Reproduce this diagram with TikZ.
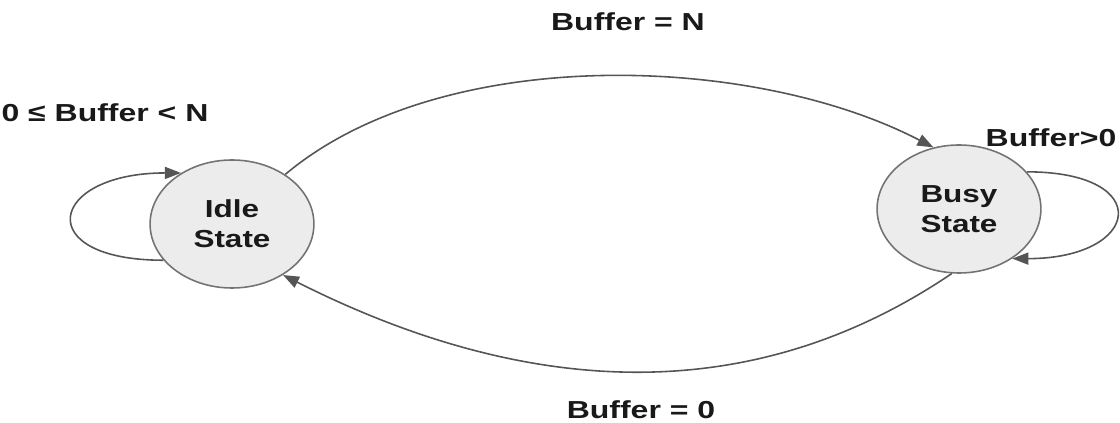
\documentclass[tikz,border=0pt]{standalone}
\usepackage{fontspec}
\setmainfont{Liberation Sans}
\usetikzlibrary{arrows.meta,positioning}
\definecolor{linegr}{RGB}{85,85,85}
\definecolor{stbdr}{RGB}{115,115,115}
\definecolor{stfill}{RGB}{236,236,236}
\definecolor{txtclr}{RGB}{25,25,25}
\tikzset{
  stnode/.style={circle,draw=stbdr,fill=stfill,line width=0.9pt,
    minimum size=2.56cm,inner sep=0pt,xscale=1.28,
    font=\fontsize{14}{17}\selectfont\bfseries,align=center,text=txtclr},
  lbl/.style={font=\fontsize{14}{17}\selectfont\bfseries,text=txtclr,
    xscale=1.3,inner sep=0pt},
  arr/.style={-{Triangle[length=0.32cm,width=0.24cm]},line width=0.9pt,color=linegr},
}
\begin{document}
\begin{tikzpicture}
  \useasboundingbox (0,0) rectangle (22.4,8.46);
  \node[stnode] (idle) at (4.64,3.98)  {Idle\\State};
  \node[stnode] (busy) at (19.18,4.28) {Busy\\State};

  \node[lbl] (lfull) at (12.56,8.02) {Buffer = N};
  \node[lbl] (lidle) at (2.10,6.20)  {0 ≤ Buffer < N};
  \node[lbl] (lbusy) at (21.02,5.70) {Buffer>0};
  \node[lbl] (lzero) at (12.82,0.26) {Buffer = 0};

  \draw[arr] (idle.50) .. controls +(3.12,2.62) and +(-3.62,1.88) .. (busy.108);
  \draw[arr] (busy.-95) .. controls +(-4.24,-2.87) and +(4.56,-2.30) .. (idle.-52);
  \draw[arr] (idle.-146) .. controls +(-2.66,0) and +(-2.66,0) .. (idle.128);
  \draw[arr] (busy.35) .. controls +(2.58,0) and +(2.58,0) .. (busy.-50);
\end{tikzpicture}
\end{document}
